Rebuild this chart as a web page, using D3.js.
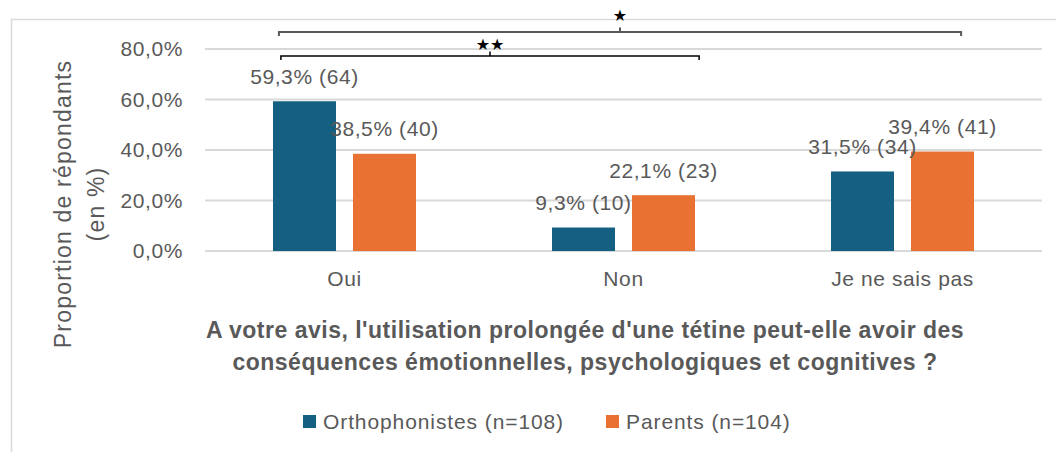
<!DOCTYPE html>
<html><head><meta charset="utf-8">
<script src="https://cdn.jsdelivr.net/npm/d3@7"></script>
<style>
body{margin:0;background:#fff;}
svg{display:block;font-family:"Liberation Sans",Arial,sans-serif;}
</style></head>
<body><svg id="c" width="1056" height="452"></svg>
<script>
const categories = ["Oui", "Non", "Je ne sais pas"];
const seriesNames = ["Orthophonistes (n=108)", "Parents (n=104)"];
const orthoValues = [59.3, 9.3, 31.5];
const orthoCounts = [64, 10, 34];
const parentValues = [38.5, 22.1, 39.4];
const parentCounts = [40, 23, 41];
const yTicks = [0, 20, 40, 60, 80];
const colors = ["#156082", "#E97132"];
// significance brackets: [category, fraction of band] for ends, level in % units
const brackets = [
  {from: ["Oui", 0.265], to: ["Je ne sais pas", 0.71], level: 86.7, label: "*", color: "#595959", width: 2, off: 17},
  {from: ["Oui", 0.272], to: ["Non", 0.771], level: 77.2, label: "**", color: "#000000", width: 1.5, off: 12}
];
const yTitle = ["Proportion de répondants", "(en %)"];
const xTitle = ["A votre avis, l'utilisation prolongée d'une tétine peut-elle avoir des",
                "conséquences émotionnelles, psychologiques et cognitives ?"];

const svg = d3.select("#c");
const txt = "#595959";
const FS = "21px", LS = "0.6px";
svg.append("rect").attr("width",1056).attr("height",452).attr("fill","#fff");
svg.append("rect").attr("x",11.5).attr("y",19.5).attr("width",1100).attr("height",500)
  .attr("fill","none").attr("stroke","#d9d9d9").attr("stroke-width",1.5);

const x0 = d3.scaleBand().domain(categories).range([205,1042]).padding(0);
const x1 = d3.scaleBand().domain(seriesNames).range([68, 211]).paddingInner(0.2125).paddingOuter(0);
const y = d3.scaleLinear().domain([0,80]).range([251,49]);

// gridlines
svg.append("g").selectAll("line").data(yTicks).join("line")
  .attr("x1",205).attr("x2",1042).attr("y1",d=>y(d)).attr("y2",d=>y(d))
  .attr("stroke","#d9d9d9").attr("stroke-width",2);

// y axis labels
const fmt = d => d.toFixed(1).replace(".", ",") + "%";
const yAxis = d3.axisLeft(y).tickValues(yTicks).tickFormat(fmt).tickSize(0).tickPadding(0);
const yg = svg.append("g").attr("transform","translate(183,0)").call(yAxis);
yg.select(".domain").remove();
yg.selectAll("text").attr("fill",txt).attr("font-size",FS).attr("letter-spacing",LS)
  .attr("font-family","Liberation Sans, Arial, sans-serif");

// x axis labels
const xAxis = d3.axisBottom(x0).tickSize(0).tickPadding(0);
const xg = svg.append("g").attr("transform","translate(0,271)").call(xAxis);
xg.select(".domain").remove();
xg.selectAll("text").attr("fill",txt).attr("font-size",FS).attr("letter-spacing",LS)
  .attr("font-family","Liberation Sans, Arial, sans-serif");

// bars
const rows = categories.map((c,i)=>({cat:c, vals:[
  {s:seriesNames[0], v:orthoValues[i], n:orthoCounts[i], col:colors[0]},
  {s:seriesNames[1], v:parentValues[i], n:parentCounts[i], col:colors[1]}]}));
const grp = svg.append("g").selectAll("g").data(rows).join("g")
  .attr("transform", d=>`translate(${x0(d.cat)},0)`);
grp.selectAll("rect").data(d=>d.vals).join("rect")
  .attr("x",d=>x1(d.s)).attr("width",x1.bandwidth())
  .attr("y",d=>y(d.v)).attr("height",d=>y(0)-y(d.v)).attr("fill",d=>d.col);
grp.selectAll("text").data(d=>d.vals).join("text")
  .attr("x",d=>x1(d.s)+x1.bandwidth()/2).attr("y",d=>y(d.v)-25).attr("dy","0.35em")
  .attr("text-anchor","middle").attr("fill",txt).attr("font-size",FS).attr("letter-spacing",LS)
  .text(d=>fmt(d.v)+" ("+d.n+")");

// brackets
const bx = p => x0(p[0]) + p[1]*x0.bandwidth();
brackets.forEach(b=>{
  const xa = bx(b.from), xb = bx(b.to), yy = y(b.level), xm = (xa+xb)/2;
  svg.append("path").attr("d",`M${xa},${yy+4}V${yy}H${xb}V${yy+4}M${xm},${yy}V${yy-4.5}`)
    .attr("fill","none").attr("stroke",b.color).attr("stroke-width",b.width);
  svg.append("text").attr("x",xm).attr("y",yy-b.off).attr("dy","0.35em").attr("text-anchor","middle")
    .attr("font-size","16px").attr("fill","#000").attr("font-family","DejaVu Sans, sans-serif")
    .text(b.label.split("").map(()=>"★").join(""));
});

// y title
yTitle.forEach((t,i)=>{
  svg.append("text").attr("transform",`translate(${63+i*33},204) rotate(-90)`).attr("dy","0.35em")
    .attr("text-anchor","middle").attr("fill",txt).attr("font-size","23px").attr("letter-spacing","1.2px").text(t);
});

// x title
xTitle.forEach((t,i)=>{
  svg.append("text").attr("x",585).attr("y",330+i*32).attr("dy","0.35em").attr("text-anchor","middle")
    .attr("fill",txt).attr("font-size","23px").attr("letter-spacing","0.5px").attr("font-weight","bold").text(t);
});

// legend
const legX = [303, 606];
const lg = svg.append("g").selectAll("g").data(seriesNames).join("g")
  .attr("transform",(d,i)=>`translate(${legX[i]},415)`);
lg.append("rect").attr("width",13).attr("height",13).attr("fill",(d,i)=>colors[i]);
lg.append("text").attr("x",20).attr("y",6.5).attr("dy","0.35em").attr("fill",txt)
  .attr("font-size",FS).attr("letter-spacing","0.9px").text(d=>d);
</script></body></html>
